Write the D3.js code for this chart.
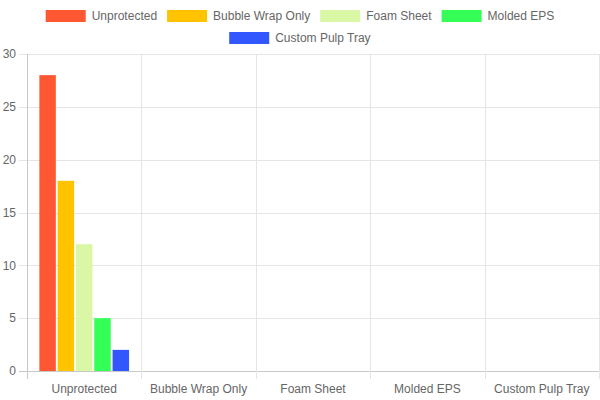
<!DOCTYPE html>
<html><head><meta charset="utf-8">
<script src="https://cdn.jsdelivr.net/npm/d3@7"></script>
<style>body{margin:0;background:#fff}svg{display:block}</style>
</head><body>
<svg id="c" width="600" height="400"></svg>
<script>
const categories = ["Unprotected","Bubble Wrap Only","Foam Sheet","Molded EPS","Custom Pulp Tray"];
const seriesNames = ["Unprotected","Bubble Wrap Only","Foam Sheet","Molded EPS","Custom Pulp Tray"];
const seriesColors = ["#FF5733","#FFC300","#DAF7A6","#33FF57","#3357FF"];
// each series only has a value for the first category
const seriesValues = [[28],[18],[12],[5],[2]];
const yTicks = [0,5,10,15,20,25,30];

const svg = d3.select("#c");
const font = "'Liberation Sans', Arial, Helvetica, sans-serif";
const m = {left:27, right:599, top:54, bottom:371};

const x = d3.scaleBand().domain(categories).range([m.left, m.right]).paddingInner(0).paddingOuter(0);
const y = d3.scaleLinear().domain([0,30]).range([m.bottom, m.top]);

// grid
const g = svg.append("g");
yTicks.forEach(t=>{
  g.append("line").attr("x1",m.left-8).attr("x2",m.right).attr("y1",Math.round(y(t))+0.5).attr("y2",Math.round(y(t))+0.5)
   .attr("stroke", t===0 ? "#c8c8c8" : "#e5e5e5").attr("stroke-width",1);
  g.append("text").attr("x",m.left-11).attr("y",y(t)).attr("dy","0.35em").attr("text-anchor","end")
   .attr("font-family",font).attr("font-size",12).attr("fill","#666").text(t);
});
const bounds = categories.map(c=>x(c)).concat([m.right]);
bounds.forEach((b,i)=>{
  g.append("line").attr("x1",Math.round(b)+0.5).attr("x2",Math.round(b)+0.5).attr("y1",m.top).attr("y2",m.bottom+8)
   .attr("stroke", i===0 ? "#c8c8c8" : "#e5e5e5").attr("stroke-width",1);
});
categories.forEach(c=>{
  g.append("text").attr("x",x(c)+x.bandwidth()/2).attr("y",m.bottom+22).attr("text-anchor","middle")
   .attr("font-family",font).attr("font-size",12).attr("fill","#666").text(c);
});

// bars
const inner = d3.scaleBand().domain(d3.range(seriesNames.length))
  .range([0, x.bandwidth()*0.8]);
seriesValues.forEach((vals,si)=>{
  vals.forEach((v,ci)=>{
    const cx = x(categories[ci]) + x.bandwidth()*0.1 + inner(si);
    const w = inner.bandwidth()*0.9;
    const bx = cx + (inner.bandwidth()-w)/2;
    svg.append("rect").attr("x",bx).attr("y",y(v)).attr("width",w).attr("height",y(0)-y(v))
      .attr("fill",seriesColors[si]);
  });
});

// legend
const legendRows = [[0,1,2,3],[4]];
const ctx = document.createElement("canvas").getContext("2d");
ctx.font = "12px " + font;
legendRows.forEach((row,ri)=>{
  const widths = row.map(i=>40+6+ctx.measureText(seriesNames[i]).width);
  const total = d3.sum(widths) + (row.length-1)*10;
  let cx = 300 - total/2;
  const yy = 10 + ri*22;
  row.forEach((i,k)=>{
    svg.append("rect").attr("x",cx).attr("y",yy).attr("width",40).attr("height",12).attr("fill",seriesColors[i]);
    svg.append("text").attr("x",cx+46).attr("y",yy+6).attr("dy","0.35em").attr("font-family",font)
      .attr("font-size",12).attr("fill","#666").text(seriesNames[i]);
    cx += widths[k] + 10;
  });
});
</script>
</body></html>
